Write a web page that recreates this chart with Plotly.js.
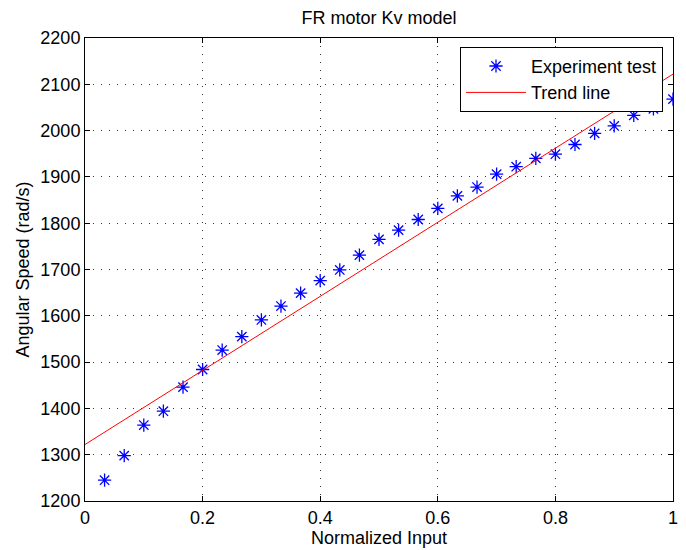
<!DOCTYPE html>
<html>
<head>
<meta charset="utf-8">
<script src="https://cdn.plot.ly/plotly-3.0.1.min.js"></script>
<style>html,body{margin:0;padding:0;background:#fff;}#chart{width:686px;height:550px;}</style>
</head>
<body>
<div id="chart"></div>
<script>
// Data
const inputX = [0.0333,0.0667,0.1,0.1333,0.1667,0.2,0.2333,0.2667,0.3,0.3333,
                0.3667,0.4,0.4333,0.4667,0.5,0.5333,0.5667,0.6,0.6333,0.6667,
                0.7,0.7333,0.7667,0.8,0.8333,0.8667,0.9,0.9333,0.9667,1.0];
const speedY = [1245,1298,1364,1394,1446,1484,1526,1555,1591,1621,
                1649,1676,1699,1731,1765,1785,1808,1832,1859,1878,
                1906,1922,1940,1949,1970,1994,2010,2033,2047,2068];
const trendX = [0, 1];
const trendY = [1322, 2122];
const xTicks = [0, 0.2, 0.4, 0.6, 0.8, 1];
const xTickText = ['0', '0.2', '0.4', '0.6', '0.8', '1'];
const yTicks = [1200,1300,1400,1500,1600,1700,1800,1900,2000,2100,2200];

const font = {family: 'Liberation Sans, Arial, sans-serif', size: 18, color: '#000'};

const traces = [
  {x: inputX, y: speedY, mode: 'markers', type: 'scatter', name: 'Experiment test',
   marker: {symbol: 'asterisk-open', size: 11, color: '#0000ff', line: {color: '#0000ff', width: 1.3}}},
  {x: trendX, y: trendY, mode: 'lines', type: 'scatter', name: 'Trend line',
   line: {color: '#ff0000', width: 1}}
];

const axisCommon = {
  showline: true, linecolor: '#000', linewidth: 1, mirror: 'ticks',
  ticks: 'inside', ticklen: 5, tickcolor: '#000', tickwidth: 1,
  showgrid: true, gridcolor: '#333', griddash: '1px,7px', gridwidth: 1,
  zeroline: false, tickfont: font
};

const layout = {
  width: 686, height: 550,
  margin: {l: 85, r: 13, t: 38, b: 49},
  paper_bgcolor: '#fff', plot_bgcolor: '#fff',
  font: font,
  title: {text: 'FR motor Kv model', font: font, xref: 'paper', x: 0.5, xanchor: 'center', y: 0.968, yanchor: 'middle'},
  xaxis: Object.assign({}, axisCommon, {
    range: [0, 1], tickvals: xTicks, ticktext: xTickText,
    title: {text: 'Normalized Input', font: font, standoff: 2}
  }),
  yaxis: Object.assign({}, axisCommon, {
    range: [1200, 2200], tickvals: yTicks,
    title: {text: 'Angular Speed (rad/s)', font: font, standoff: 6}
  }),
  showlegend: true,
  legend: {
    x: 0.983, y: 0.981, xanchor: 'right', yanchor: 'top',
    bgcolor: '#fff', bordercolor: '#000', borderwidth: 1,
    font: font, itemwidth: 60, tracegroupgap: 0
  }
};

Plotly.newPlot('chart', traces, layout, {displayModeBar: false, staticPlot: true});
</script>
</body>
</html>
